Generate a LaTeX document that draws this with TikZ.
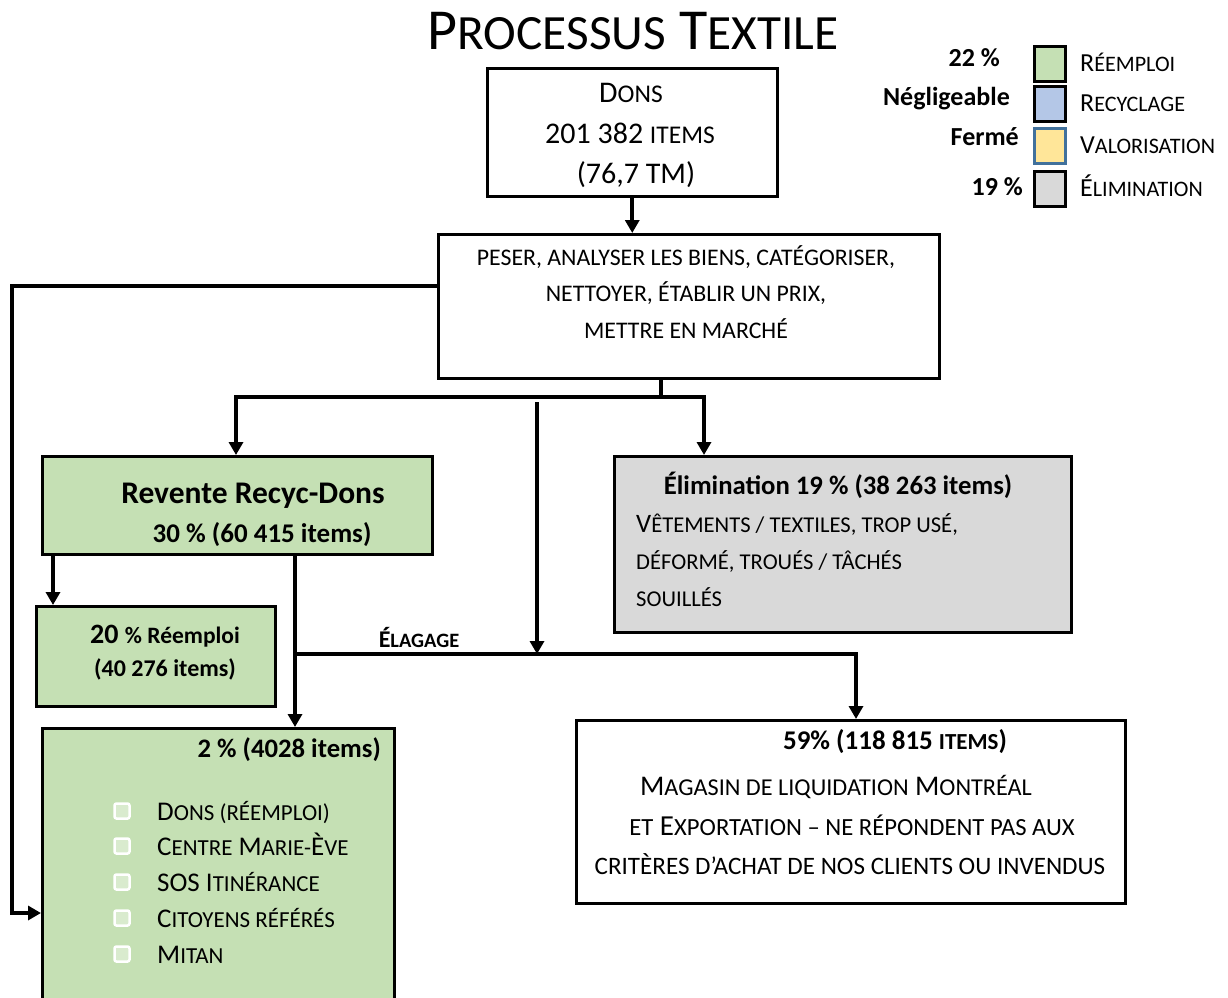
\documentclass[tikz,border=0pt]{standalone}
\usepackage{fontspec}
\setmainfont{Carlito}
\usetikzlibrary{arrows.meta,calc,positioning}

\definecolor{reemploi}{HTML}{C5E0B4}
\definecolor{recyclage}{HTML}{B4C7E7}
\definecolor{valorisation}{HTML}{FFE699}
\definecolor{elimination}{HTML}{D9D9D9}
\definecolor{cadrebleu}{HTML}{41719C}

\makeatletter
% petites capitales simulees
\newcommand\sm[1]{{\fontsize{\fpeval{0.85*\f@size}}{\f@baselineskip}\selectfont\MakeUppercase{#1}}}
\makeatother
\newcommand\taille[1]{\fontsize{#1}{#1}\selectfont}

\begin{document}
\begin{tikzpicture}[x=1pt,y=-1pt,
  boite/.style={draw, line width=2.5pt, anchor=north west, inner sep=0pt},
  lien/.style={line width=3.7pt},
  fleche/.style={line width=3.7pt, -{Triangle[width=14pt,length=13pt]}},
  txt/.style={anchor=base, inner sep=0pt},
  case/.style={draw=white, line width=2.5pt, fill=white!35!reemploi, rounded corners=2pt, minimum size=15pt, inner sep=0pt}]
\clip (0,0) rectangle (1228,997);

% Titre
\node[txt] (titre) at (633,49) {\taille{58}P\sm{rocessus} T\sm{extile}};

% Legende
\foreach \c/\bord/\y/\lbl/\g/\gx/\gy [count=\i] in {
    reemploi/black/45/{R\sm{éemploi}}/{22 \%}/1000/66,
    recyclage/black/85/{R\sm{ecyclage}}/{Négligeable}/1010/105,
    valorisation/cadrebleu/127/{V\sm{alorisation}}/{Fermé}/1019/145,
    elimination/black/170/{É\sm{limination}}/{19 \%}/1023/195} {
    \node[boite, fill=\c, draw=\bord, minimum width=31pt, minimum height=35pt] (leg\i) at (1033,\y) {};
    \node[txt, anchor=base west] (lbl\i) at (1080,\y+26) {\taille{26}\lbl};
    \node[txt, anchor=base east] (pct\i) at (\gx,\gy) {\taille{26}\bfseries\g};
}

% Boites
\node[boite, minimum width=290pt, minimum height=128pt] (dons) at (486,67) {};
\node[boite, minimum width=501pt, minimum height=144pt] (proc) at (437,233) {};
\node[boite, fill=reemploi, minimum width=390pt, minimum height=98pt] (revente) at (41,455) {};
\node[boite, fill=reemploi, minimum width=239pt, minimum height=100pt] (reemp) at (35,605) {};
\node[boite, fill=reemploi, minimum width=352pt, minimum height=300pt] (dist) at (41,727) {};
\node[boite, fill=elimination, minimum width=457pt, minimum height=176pt] (elim) at (613,455) {};
\node[boite, minimum width=549pt, minimum height=183pt] (liq) at (575,719) {};

% Dons
\node[txt] (dons1) at (631,102) {\taille{30}D\sm{ons}};
\node[txt] (dons2) at (630,143) {\taille{30}201 382 \sm{items}};
\node[txt] (dons3) at (636,183) {\taille{30}(76,7 TM)};

% Traitement
\foreach \ligne/\y [count=\i] in {{\sm{peser, analyser les biens, catégoriser,}}/265,
    {\sm{nettoyer, établir un prix,}}/301, {\sm{mettre en marché}}/338}
    \node[txt] (proc\i) at (686,\y) {\taille{28}\ligne};

% Revente
\node[txt] (rev1) at (253,503) {\taille{31.5}\bfseries Revente Recyc-Dons};
\node[txt] (rev2) at (262,542) {\taille{27}\bfseries 30 \% (60 415 items)};

% Reemploi 20 %
\node[txt] (reemp1) at (165,643) {\bfseries\taille{28}20 {\taille{23.5}\% Réemploi}};
\node[txt] (reemp2) at (165,676) {\bfseries\taille{24}(40 276 items)};

% Distribution 2 %
\node[txt, anchor=base east] (dist0) at (381,757) {\taille{26.7}\bfseries 2 \% (4028 items)};
\foreach \lbl/\y [count=\i] in {{D\sm{ons (réemploi)}}/820, {C\sm{entre} M\sm{arie-}È\sm{ve}}/855,
    {SOS I\sm{tinérance}}/891, {C\sm{itoyens référés}}/927, {M\sm{itan}}/963} {
    \node[case] (case\i) at (122,\y-9) {};
    \node[txt, anchor=base west] (item\i) at (157,\y) {\taille{27}\lbl};
}

% Elimination
\node[txt] (elim0) at (838,494) {\taille{26.7}\bfseries Élimination 19 \% (38 263 items)};
\foreach \ligne/\y [count=\i] in {{V\sm{êtements / textiles, trop usé,}}/532,
    {\sm{déformé, troués / tâchés}}/569, {\sm{souillés}}/606}
    \node[txt, anchor=base west] (elim\i) at (636,\y) {\taille{26.6}\ligne};

% Liquidation
\node[txt] (liq0) at (895,749) {\taille{27}\bfseries 59\% (118 815 \sm{items})};
\node[txt] (liq1) at (836,795) {\taille{28.5}M\sm{agasin de liquidation} M\sm{ontréal}};
\node[txt] (liq2) at (852,835) {\taille{29}\sm{et} E\sm{xportation – ne répondent pas aux}};
\node[txt] (liq3) at (850,874) {\taille{29.5}\sm{critères d’achat de nos clients ou invendus}};

% Connecteurs
\coordinate (noeud) at (661,397);
\coordinate (milieu) at (537,402);
\coordinate (elag) at (295,654);
\coordinate (pg) at ($(proc.north west)+(0,53)$);
\coordinate (coin) at (12,913);
\coordinate (rg) at ($(revente.south west)+(12,0)$);
\coordinate (rd) at ($(revente.south west)+(254,0)$);

\draw[fleche] (dons.south) -- (dons.south |- proc.north);
\draw[fleche] (pg) -| (coin) -- (coin -| dist.west);
\draw[lien] (proc.south -| noeud) -- (noeud);
\draw[fleche] (noeud) -| ($(revente.north west)+(195,0)$);
\draw[fleche] (noeud) -| ($(elim.north west)+(91,0)$);
\draw[fleche] (milieu) -- (milieu |- elag);
\draw[fleche] (rg) -- (rg |- reemp.north);
\draw[fleche] (rd) -- (rd |- dist.north);
\draw[fleche] (rd |- elag) -| ($(liq.north west)+(281,0)$);
\node[txt] (elagage) at (419,647) {\taille{24}\bfseries É\sm{lagage}};
\end{tikzpicture}
\end{document}
